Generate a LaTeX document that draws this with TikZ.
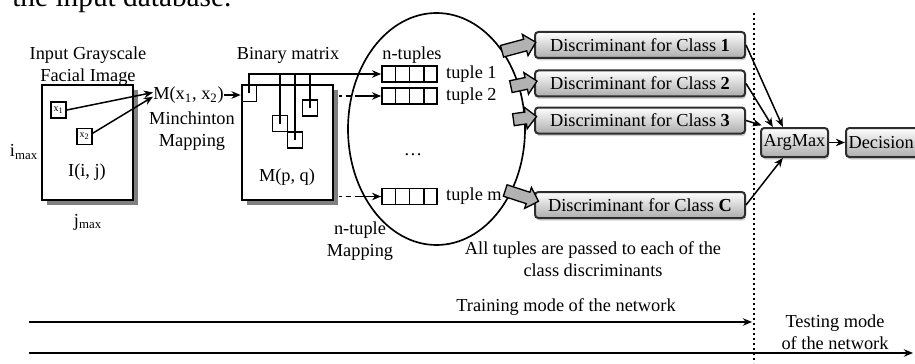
\documentclass[tikz,border=0pt]{standalone}
\usepackage{fontspec}
\setmainfont{Liberation Serif}
\usetikzlibrary{positioning,arrows.meta,calc,shapes.geometric,shapes.arrows,shadows}

\begin{document}
\begin{tikzpicture}[x=0.6pt,y=0.6pt,font=\fontsize{11}{13.2}\selectfont,
      arr/.style={-{Stealth[length=5.5pt,width=4.5pt]},line width=0.9pt},
      sheet/.style={draw,line width=1.2pt,fill=white,minimum width=54.6pt,minimum height=69pt,
        drop shadow={shadow xshift=3pt,shadow yshift=-3pt,fill=gray,opacity=1}},
      pix/.style={draw,line width=1pt,minimum width=9pt,minimum height=9.6pt,inner sep=0pt,
        font=\fontsize{6}{7}\selectfont},
      tuplebox/.style={draw,line width=1pt,minimum width=33pt,minimum height=9.6pt,inner sep=0pt},
      disc/.style={draw=gray!35!black,line width=1.2pt,rounded corners=2pt,top color=white,
        bottom color=gray!65,minimum height=15.6pt,inner sep=1pt,
        drop shadow={shadow xshift=0.6pt,shadow yshift=-1.5pt,opacity=0.35}},
      fat/.style={single arrow,draw,fill=gray!60,line width=0.8pt,inner sep=3.2pt,
        single arrow head extend=3pt}]
    \useasboundingbox (0,0) rectangle (915,363);
    \node[anchor=base west,inner sep=0pt] (caption) at (12,356) {\scalebox{1.6}{the input database.}};

    % input image
    \node[sheet] (img) at (87.5,220.5) {};
    \node (imgtitle) at (88,297) [align=center] {Input Grayscale\\Facial Image};
    \node[pix] (x1box) at (58.5,253) {x\textsubscript{1}};
    \node[pix] (x2box) at (84.5,226.5) {x\textsubscript{2}};
    \node (imax) at (24,211) {i\textsubscript{max}};
    \node (iij) at (87,191) {I(i, j)};
    \node (jmax) at (88,141) {j\textsubscript{max}};

    % Minchinton mapping
    \node[anchor=west,inner sep=0pt] (mx) at (153,268) {M(x\textsubscript{1}, x\textsubscript{2})};
    \node[align=center] (minch) at (192,232) {Minchinton\\Mapping};
    \draw[arr] (x1box.east) -- ([yshift=1.5pt]mx.west);
    \draw[arr] ([yshift=2pt]x2box.east) -- ([yshift=-1pt]mx.west);

    % binary matrix
    \node[sheet] (mat) at (287.5,220.5) {};
    \node (mattitle) at (288,308) {Binary matrix};
    \node (mpq) at (287,186) {M(p, q)};
    \node[pix] (b1) at (249,269.5) {};
    \node[pix] (b2) at (280,239.5) {};
    \node[pix] (b3) at (295,223) {};
    \node[pix] (b4) at (310,255) {};
    \draw[arr] (mx.east) -- (mx.east -| b1.west);

    % n-tuples
    \node[draw,ellipse,line width=1pt,minimum width=106.2pt,minimum height=139.2pt] (pool) at (436.5,234) {};
    \node[tuplebox] (t1) at (409.5,289) {};
    \node[tuplebox] (t2) at (409.5,267) {};
    \node[tuplebox] (tm) at (409.5,166.5) {};
    \foreach \t in {t1,t2,tm}
      \foreach \k in {1,2,3}
        \draw[line width=1pt] ($(\t.south west)!\k/4!(\t.south east)$) -- ($(\t.north west)!\k/4!(\t.north east)$);
    \node[right=1.5pt of t1] (t1lab) {tuple 1};
    \node[right=1.5pt of t2] (t2lab) {tuple 2};
    \node[right=1.5pt of tm] (tmlab) {tuple m};
    \node (ntitle) at (412,308) {n-tuples};
    \node (dots) at (413,208) {\dots};
    \node[align=center] (nmap) at (360,122) {n-tuple\\Mapping};

    \draw[arr] (b1.center) |- (t1.west);
    \foreach \b in {b2,b3,b4}
      \draw[line width=0.9pt] (\b.center) -- (\b.center |- t1.west);
    \draw[arr,dash pattern=on 1.5pt off 2.5pt on 3pt off 2.5pt on 40pt] ($(mat.east |- t2.west)+(5,0)$) -- (t2.west);
    \draw[arr,dash pattern=on 1.5pt off 2.5pt on 3pt off 2.5pt on 40pt] ($(mat.east |- tm.west)+(5,0)$) -- (tm.west);

    % class discriminants
    \node[disc,minimum width=126pt] (d1) at (640,318) {Discriminant for Class \textbf{1}};
    \node[disc,minimum width=126pt] (d2) at (640,279.5) {Discriminant for Class \textbf{2}};
    \node[disc,minimum width=126pt] (d3) at (640,242.5) {Discriminant for Class \textbf{3}};
    \node[disc,minimum width=126pt] (dC) at (640,158) {Discriminant for Class \textbf{C}};
    \node[fat,minimum height=21pt,rotate=15] (fa1) at (516,315.5) {};
    \node[fat,minimum height=16pt,rotate=12] (fa2) at (521,278.5) {};
    \node[fat,minimum height=14pt,rotate=8] (fa3) at (522,244.5) {};
    \node[fat,minimum height=21pt,rotate=-18] (faC) at (519,168) {};
    \node[align=center] (passnote) at (593,103.5) {All tuples are passed to each of the\\class discriminants};

    % decision
    \draw[dotted,line width=1pt] (754,350) -- (754,0);
    \node[disc,minimum width=40.2pt,minimum height=17.4pt] (argmax) at (794.5,220.5) {ArgMax};
    \node[disc,anchor=west,align=left,text width=45pt,inner xsep=1.5pt,minimum height=17.4pt] (decision) at (845,220.5) {Decision};
    \draw[arr] (d1.east) -- ([xshift=-7pt]argmax.north);
    \draw[arr] (d2.east) -- ([xshift=-13pt]argmax.north);
    \draw[arr] (d3.east) -- ([xshift=1pt,yshift=1pt]argmax.north west);
    \draw[arr] (dC.east) -- ([xshift=-7pt]argmax.south);
    \draw[arr] (argmax.east) -- (decision.west);

    % modes
    \coordinate (trainA) at (29,41);
    \coordinate (trainB) at (752,41);
    \coordinate (testA) at (29,10);
    \coordinate (testB) at (913,10);
    \draw[arr,line width=1.2pt] (trainA) -- (trainB);
    \draw[arr,line width=1.2pt] (testA) -- (testB);
    \node (trainlab) at (566,56) {Training mode of the network};
    \node[align=center] (testlab) at (835,31) {Testing mode\\of the network};
  \end{tikzpicture}
\end{document}
